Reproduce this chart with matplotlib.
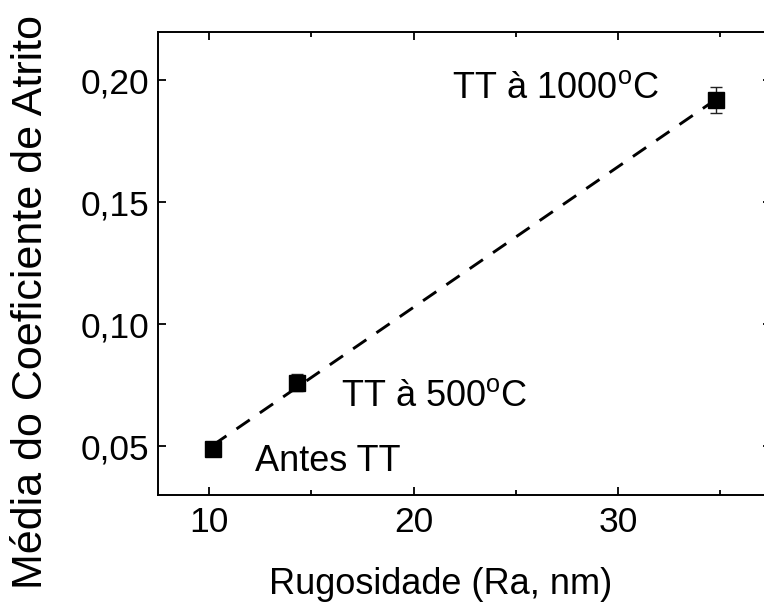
import numpy as np
import matplotlib
matplotlib.use("Agg")
import matplotlib.pyplot as plt
from matplotlib.ticker import MultipleLocator, FuncFormatter

plt.rcParams['font.family'] = ['Liberation Sans', 'DejaVu Sans']
plt.rcParams['mathtext.fontset'] = 'custom'
plt.rcParams['mathtext.rm'] = 'Liberation Sans'
plt.rcParams['mathtext.it'] = 'Liberation Sans'

# Roughness (Ra, nm) vs mean friction coefficient
rugosidade = [10.2, 14.3, 34.8]
atrito = [0.049, 0.076, 0.192]
erro = [0.001, 0.0035, 0.0055]
rotulos = ["Antes TT", r"TT à 500$^{\rm o}$C", r"TT à 1000$^{\rm o}$C"]
rotulo_pos = [(12.25, 0.040), (16.45, 0.0663), (21.9, 0.1930)]

W, H = 764, 605
fig = plt.figure(figsize=(W / 100, H / 100), dpi=100)
ax = fig.add_axes([0.2068, 0.1818, 0.803, 0.7658])

# linear fit over the measured range
coef = np.polyfit(rugosidade, atrito, 1)
xf = np.linspace(min(rugosidade), max(rugosidade), 50)
ax.plot(xf, np.polyval(coef, xf), color='black', lw=2.1,
        linestyle=(0, (5.5, 4.2)), zorder=2)

ax.errorbar(rugosidade, atrito, yerr=erro, fmt='s', color='black',
            ms=11.8, ecolor='#222222', elinewidth=1.0, capsize=4.5,
            capthick=1.0, zorder=3)

for txt, (tx, ty) in zip(rotulos, rotulo_pos):
    ax.text(tx, ty, txt, fontsize=26, ha='left', va='baseline')

ax.set_xlim(7.5, 37.5)
ax.set_ylim(0.03, 0.22)
ax.xaxis.set_major_locator(MultipleLocator(10))
ax.xaxis.set_minor_locator(MultipleLocator(5))
ax.yaxis.set_major_locator(MultipleLocator(0.05))
ax.yaxis.set_major_formatter(FuncFormatter(lambda v, p: f"{v:.2f}".replace('.', ',')))

ax.tick_params(which='both', direction='in', top=True, right=True,
               labelsize=25.5, width=1.3)
ax.tick_params(which='major', length=6)
ax.tick_params(which='minor', length=3.5)
ax.tick_params(axis='x', pad=8)
ax.tick_params(axis='y', pad=6)
for s in ax.spines.values():
    s.set_linewidth(1.4)

fig.text(441 / W, 1 - 594 / H, "Rugosidade (Ra, nm)", fontsize=26,
         ha='center', va='baseline')
fig.text(31 / W, 1 - 302 / H, "Média do Coeficiente de Atrito", fontsize=31,
         rotation=90, ha='center', va='center')

fig.savefig("out.png", dpi=100)
